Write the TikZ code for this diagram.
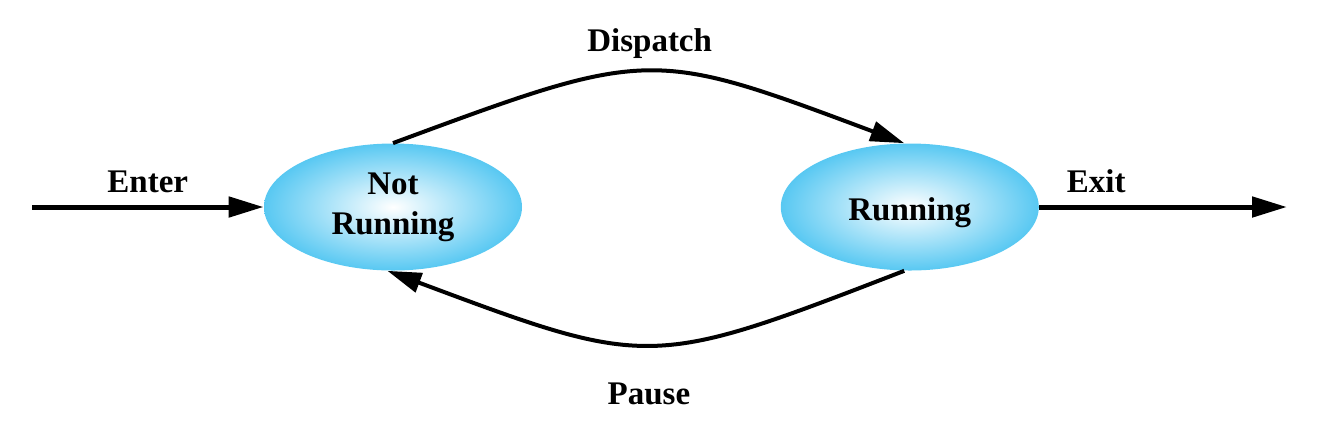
\documentclass[tikz,border=0pt]{standalone}
\usepackage{fontspec}
\setmainfont{Liberation Serif}
\usepackage{xcolor}
\usepackage{tikz}
\usetikzlibrary{shapes.geometric,arrows.meta,positioning}

\definecolor{skycyan}{RGB}{88,200,242}

\begin{document}
\begin{tikzpicture}[
    x=0.5pt, y=-0.5pt,
    node distance=129pt,
    every node/.style={font=\fontsize{16.5}{20}\selectfont\bfseries},
    state/.style={ellipse, inner sep=0pt, minimum width=129pt, minimum height=63.5pt, inner color=white, outer color=skycyan, align=center},
    arrow/.style={-{Triangle[length=17.5pt,width=10pt]}, line width=2.5pt},
    curvearrow/.style={-{Triangle[length=17pt,width=10pt]}, line width=2pt}
]
\useasboundingbox (0,0) rectangle (1323,436);

\node[state] (notrun) at (393,207) {Not\\Running};
\node[state, right=of notrun] (run) {\raisebox{-3pt}[\height][\depth]{Running}};

\coordinate (entry) at (32,207);
\coordinate (exit) at (1287,207);

\draw[arrow] (entry) -- node[above=2.5pt] (enterlbl) {Enter} (notrun);
\draw[arrow] (run) -- node[pos=0.23, above=2.5pt] (exitlbl) {Exit} (exit);
\draw[curvearrow] (notrun.north) .. controls (650,48) and (650,48) .. node[above=2.5pt] (dispatchlbl) {Dispatch} (run.95);
\draw[curvearrow] (run.265) .. controls (650,369) and (650,369) .. node[below=15pt] (pauselbl) {Pause} (notrun.265);

\end{tikzpicture}
\end{document}
